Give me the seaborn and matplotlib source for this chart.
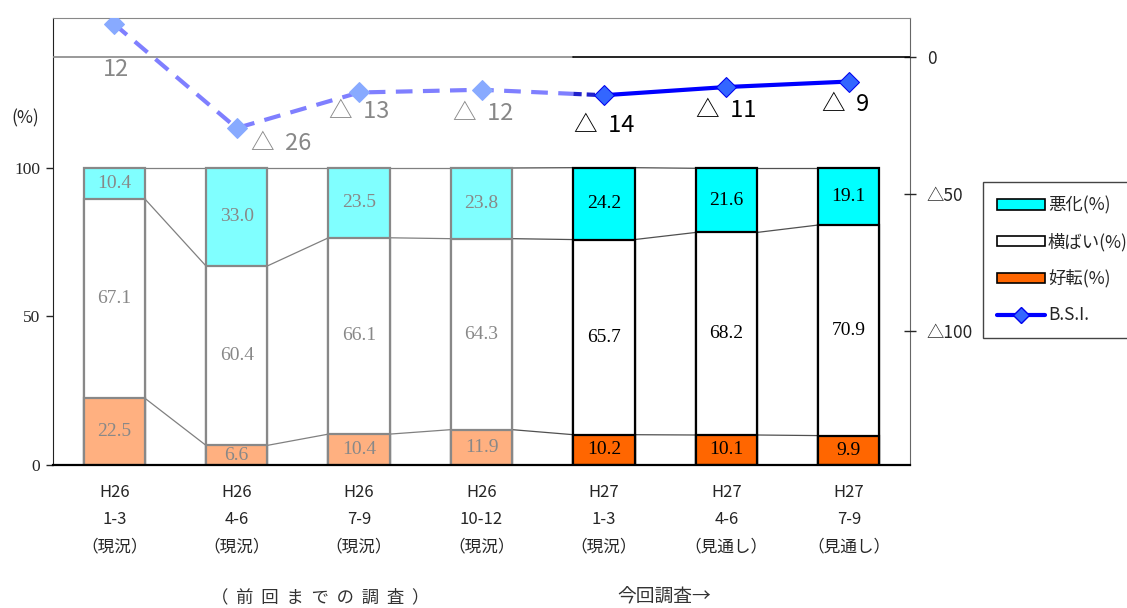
import matplotlib
matplotlib.use("Agg")
import matplotlib.pyplot as plt
import seaborn as sns
from matplotlib.patches import Patch
from matplotlib.lines import Line2D

# ---- data -------------------------------------------------------------
periods = [
    "H26\n1-3\n（現況）",
    "H26\n4-6\n（現況）",
    "H26\n7-9\n（現況）",
    "H26\n10-12\n（現況）",
    "H27\n1-3\n（現況）",
    "H27\n4-6\n（見通し）",
    "H27\n7-9\n（見通し）",
]
improved = [22.5, 6.6, 10.4, 11.9, 10.2, 10.1, 9.9]     # 好転(%)
flat = [67.1, 60.4, 66.1, 64.3, 65.7, 68.2, 70.9]       # 横ばい(%)
worse = [10.4, 33.0, 23.5, 23.8, 24.2, 21.6, 19.1]      # 悪化(%)
bsi = [12, -26, -13, -12, -14, -11, -9]                 # B.S.I.
n_prev = 4  # number of periods from earlier surveys

# ---- styling ----------------------------------------------------------
sns.set_style("white")
plt.rcParams["font.family"] = ["Noto Sans CJK JP", "DejaVu Sans"]
SERIF = ["Liberation Serif", "DejaVu Serif"]
SANS = ["Noto Sans CJK JP", "DejaVu Sans"]

c_worse = ["#80ffff"] * n_prev + ["#00ffff"] * (len(periods) - n_prev)
c_impr = ["#ffb080"] * n_prev + ["#ff6600"] * (len(periods) - n_prev)
c_edge = ["#888888"] * n_prev + ["#000000"] * (len(periods) - n_prev)
c_text = ["#888888"] * n_prev + ["#000000"] * (len(periods) - n_prev)

fig = plt.figure(figsize=(11.27, 6.08), dpi=100)
ax = fig.add_axes([0.047, 0.2352, 0.7605, 0.7352])

n = len(periods)
idx = list(range(n))
cum1 = improved
cum2 = [a + b for a, b in zip(improved, flat)]
cum3 = [a + b + c for a, b, c in zip(improved, flat, worse)]

# stacked bars: draw cumulative totals from the top segment down
for heights in (cum3, cum2, cum1):
    sns.barplot(x=periods, y=heights, ax=ax, width=0.5, color="white",
                errorbar=None, linewidth=1.6, zorder=2)

patches = ax.patches
for i in range(n):
    patches[i].set_facecolor(c_worse[i])
    patches[n + i].set_facecolor("white")
    patches[2 * n + i].set_facecolor(c_impr[i])
    for k in range(3):
        patches[k * n + i].set_edgecolor(c_edge[i])

# connector lines between neighbouring bars
hw = 0.25
for cum in (cum1, cum2, cum3):
    for i in range(n - 1):
        col = "#808080" if i < n_prev - 1 else "#505050"
        ax.plot([i + hw, i + 1 - hw], [cum[i], cum[i + 1]], color=col,
                lw=0.9, zorder=1)

# value labels inside the segments
for i in range(n):
    segs = [(0, cum1[i], improved[i]), (cum1[i], cum2[i], flat[i]),
            (cum2[i], cum3[i], worse[i])]
    for lo, hi, v in segs:
        ax.text(i, (lo + hi) / 2, f"{v:.1f}", ha="center", va="center",
                fontsize=14, color=c_text[i], family=SERIF, zorder=4)

ax.set_xlim(-0.5, n - 0.5)
ax.set_ylim(0, 150.5)
ax.set_yticks([0, 50, 100])
ax.set_yticklabels(["0", "50", "100"], family=SERIF, fontsize=12.5)
ax.tick_params(axis="y", direction="out", length=5, width=1, left=True,
               pad=4)
ax.tick_params(axis="x", length=0, pad=14, labelsize=12)
for lab in ax.get_xticklabels():
    lab.set_linespacing(1.75)
ax.set_xlabel("")
ax.set_ylabel("")
ax.spines["left"].set_color("#222222")
ax.spines["bottom"].set_color("#000000")
ax.spines["bottom"].set_linewidth(1.6)
ax.spines["top"].set_color("#888888")
ax.spines["right"].set_color("#666666")

# ---- B.S.I. line on the secondary axis ---------------------------------
ax2 = ax.twinx()
ax2.set_ylim(-149, 14.2)
ax2.set_yticks([0, -50, -100])
ax2.set_yticklabels(["0", "△50", "△100"], family=SANS, fontsize=12.5)
ax2.tick_params(axis="y", direction="inout", length=8, width=1, right=True,
                pad=8)
for sp in ax2.spines.values():
    sp.set_visible(False)

# this survey starts at the left edge of the first current-period bar
x_split = n_prev - hw
split = (x_split + 0.5) / n
ax2.axhline(0, xmin=0, xmax=split, color="#888888", lw=1.2, zorder=1)
ax2.axhline(0, xmin=split, xmax=1, color="#000000", lw=1.2, zorder=1)

y_split = bsi[n_prev - 1] + (bsi[n_prev] - bsi[n_prev - 1]) * (x_split - (n_prev - 1))

sns.lineplot(x=idx[:n_prev] + [x_split], y=bsi[:n_prev] + [y_split], ax=ax2,
             color="#7f7fff", linestyle=(0, (4, 2.5)), lw=3, zorder=4)
sns.lineplot(x=idx[:n_prev], y=bsi[:n_prev], ax=ax2, color="#7f7fff",
             lw=0, marker="D", markersize=10, markerfacecolor="#88aaff",
             markeredgecolor="#88aaff", zorder=5)
sns.lineplot(x=[x_split, n_prev], y=[y_split, bsi[n_prev]], ax=ax2,
             color="#2222cc", linestyle=(0, (2, 1.2)), lw=3, zorder=4)
sns.lineplot(x=idx[n_prev:], y=bsi[n_prev:], ax=ax2, color="#0000ff",
             lw=3, marker="D", markersize=10, markerfacecolor="#3366ff",
             markeredgecolor="#0000ee", zorder=6)
ax2.set_xlabel("")
ax2.set_ylabel("")
ax.set_xlim(-0.5, n - 0.5)

offsets = [(2, -45), (44, -15), (0, -19), (2, -24), (0, -30), (0, -23),
           (-3, -23)]
for i, v in enumerate(bsi):
    txt = f"{v}" if v >= 0 else f"△  {abs(v)}"
    ax2.annotate(txt, (i, v), xytext=offsets[i], textcoords="offset pixels",
                 ha="center", va="center", fontsize=17, color=c_text[i],
                 family=SANS, zorder=7)

# ---- legend and captions -----------------------------------------------
handles = [
    Patch(facecolor="#00ffff", edgecolor="black", lw=1.2),
    Patch(facecolor="white", edgecolor="black", lw=1.2),
    Patch(facecolor="#ff6600", edgecolor="black", lw=1.2),
    Line2D([], [], color="#0000ff", lw=3, marker="D", markersize=8,
           markerfacecolor="#3366ff", markeredgecolor="#0000ee"),
]
labels = ["悪化(%)", "横ばい(%)", "好転(%)", "B.S.I."]
fig.legend(handles, labels, loc="upper left", bbox_to_anchor=(0.872, 0.70),
           fancybox=False, framealpha=1, edgecolor="#444444", fontsize=12.5,
           handlelength=2.8, handleheight=0.55, labelspacing=1.05,
           handletextpad=0.15, borderpad=0.8, borderaxespad=0)

fig.text(0.022, 0.806, "(%)", fontsize=12.5, ha="center", va="center")
fig.text(0.284, 0.018, "（  前  回  ま  で  の  調  査  ）", fontsize=12.5,
         ha="center", va="center", color="#333333")
fig.text(0.589, 0.018, "今回調査→", fontsize=13.5, ha="center", va="center",
         color="#333333")

fig.savefig("out.png", dpi=100)
